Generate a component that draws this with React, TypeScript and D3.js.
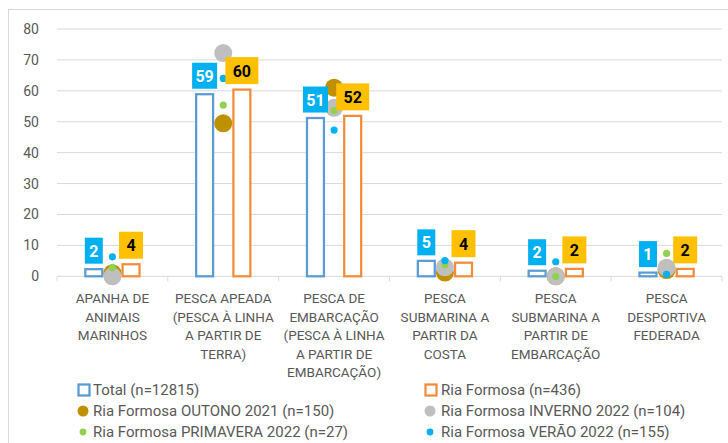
import React from "react";
import * as d3 from "d3";

const categories = [
  "APANHA DE ANIMAIS MARINHOS",
  "PESCA APEADA (PESCA À LINHA A PARTIR DE TERRA)",
  "PESCA DE EMBARCAÇÃO (PESCA À LINHA A PARTIR DE EMBARCAÇÃO)",
  "PESCA SUBMARINA A PARTIR DA COSTA",
  "PESCA SUBMARINA A PARTIR DE EMBARCAÇÃO",
  "PESCA DESPORTIVA FEDERADA",
];
const categoryLines = [
  ["APANHA DE", "ANIMAIS", "MARINHOS"],
  ["PESCA APEADA", "(PESCA À LINHA", "A PARTIR DE", "TERRA)"],
  ["PESCA DE", "EMBARCAÇÃO", "(PESCA À LINHA", "A PARTIR DE", "EMBARCAÇÃO)"],
  ["PESCA", "SUBMARINA A", "PARTIR DA", "COSTA"],
  ["PESCA", "SUBMARINA A", "PARTIR DE", "EMBARCAÇÃO"],
  ["PESCA", "DESPORTIVA", "FEDERADA"],
];

const totalValues = [2.3, 58.9, 51.2, 5.0, 1.8, 1.2];
const riaFormosaValues = [3.9, 60.4, 51.9, 4.4, 2.4, 2.4];
const outonoValues = [1.0, 49.5, 61.0, 1.2, 0, 2.0];
const invernoValues = [0, 72.2, 54.5, 2.9, 0, 2.8];
const primaveraValues = [2.8, 55.4, 53.6, 3.7, 0, 7.4];
const veraoValues = [6.3, 64.0, 47.3, 5.1, 4.7, 0.6];

const yTicks = [0, 10, 20, 30, 40, 50, 60, 70, 80];

const legendLabels = [
  "Total (n=12815)",
  "Ria Formosa (n=436)",
  "Ria Formosa OUTONO 2021 (n=150)",
  "Ria Formosa INVERNO 2022 (n=104)",
  "Ria Formosa PRIMAVERA 2022 (n=27)",
  "Ria Formosa VERÃO 2022 (n=155)",
];

const FONT = "Roboto, 'Liberation Sans', sans-serif";
const TEXT = "#595959";
const BLUE_BAR = "#5B9BD5";
const ORANGE_BAR = "#F28C3A";
const GOLD = "#BF9000";
const GRAY = "#BFBFBF";
const GREEN = "#92D050";
const CYAN = "#00B0F0";
const YELLOW = "#FFC000";

export default function App() {
  const W = 728;
  const H = 443;
  const x = d3.scaleBand<string>().domain(categories).range([57, 722]).paddingInner(0).paddingOuter(0);
  const y = d3.scaleLinear().domain([0, 80]).range([276.3, 29]);
  const bw = x.bandwidth();
  const barOff = bw * 0.168;
  const barW = bw * 0.153;
  const cx = (c: string) => (x(c) as number) + bw / 2;
  const fmt = d3.format(".0f");

  const scatter = [
    { vals: outonoValues, color: GOLD, r: 9 },
    { vals: invernoValues, color: GRAY, r: 9 },
    { vals: primaveraValues, color: GREEN, r: 3.6 },
    { vals: veraoValues, color: CYAN, r: 3.6 },
  ];

  const boundaries = categories.map((c) => x(c) as number).concat([722]);

  const legendRows = [390, 411, 432];
  const legendCols = [{ mx: 84, tx: 93 }, { mx: 431, tx: 441 }];
  const legendItems = [
    { type: "square", color: BLUE_BAR },
    { type: "square", color: ORANGE_BAR },
    { type: "circle", color: GOLD, r: 5.5 },
    { type: "circle", color: GRAY, r: 5.5 },
    { type: "circle", color: GREEN, r: 3.4 },
    { type: "circle", color: CYAN, r: 3.4 },
  ];

  return (
    <svg width={W} height={H} style={{ position: "absolute", left: 0, top: 0, background: "#fff" }} fontFamily={FONT}>
      <rect x={0} y={0} width={W} height={H} fill="#fff" />
      <rect x={8.5} y={9.5} width={740} height={460} fill="none" stroke="#D9D9D9" strokeWidth={1} />
      {yTicks.map((t) => (
        <line key={"g" + t} x1={57} x2={722} y1={y(t)} y2={y(t)} stroke="#D9D9D9" strokeWidth={1} />
      ))}
      {yTicks.map((t) => (
        <text key={"yt" + t} x={39} y={y(t) + 5} textAnchor="end" fontSize={14} fill={TEXT}>
          {t}
        </text>
      ))}
      {boundaries.map((b, i) => (
        <line key={"xt" + i} x1={b} x2={b} y1={y(0)} y2={y(0) + 5} stroke="#D9D9D9" strokeWidth={1} />
      ))}
      {categories.map((c, i) => (
        <g key={"b" + i}>
          <rect
            x={cx(c) - barOff - barW / 2}
            y={y(totalValues[i])}
            width={barW}
            height={y(0) - y(totalValues[i])}
            fill="#fff"
            stroke={BLUE_BAR}
            strokeWidth={2.25}
          />
          <rect
            x={cx(c) + barOff - barW / 2}
            y={y(riaFormosaValues[i])}
            width={barW}
            height={y(0) - y(riaFormosaValues[i])}
            fill="#fff"
            stroke={ORANGE_BAR}
            strokeWidth={2.25}
          />
        </g>
      ))}
      {scatter.map((s, si) =>
        categories.map((c, i) => (
          <circle key={"s" + si + "-" + i} cx={cx(c)} cy={y(s.vals[i])} r={s.r} fill={s.color} />
        ))
      )}
      {categories.map((c, i) => {
        const tLabel = fmt(totalValues[i]);
        const rLabel = fmt(riaFormosaValues[i]);
        const bwT = 11 + 7 * tLabel.length;
        const bwR = 15 + 9 * rLabel.length;
        const hT = 26;
        const hR = 27;
        const xT = cx(c) - barOff;
        const xR = cx(c) + barOff;
        const yT = y(totalValues[i]) - 5.5 - hT;
        const yR = y(riaFormosaValues[i]) - 5.5 - hR;
        return (
          <g key={"l" + i}>
            <rect x={xT - bwT / 2} y={yT} width={bwT} height={hT} fill={CYAN} />
            <text x={xT} y={yT + hT / 2 + 6} textAnchor="middle" fontSize={16} fontWeight="bold" fill="#fff">
              {tLabel}
            </text>
            <rect x={xR - bwR / 2} y={yR} width={bwR} height={hR} fill={YELLOW} />
            <text x={xR} y={yR + hR / 2 + 6} textAnchor="middle" fontSize={16} fontWeight="bold" fill="#000">
              {rLabel}
            </text>
          </g>
        );
      })}
      {categories.map((c, i) => (
        <text key={"c" + i} textAnchor="middle" fontSize={13.5} fill={TEXT}>
          {categoryLines[i].map((ln, j) => (
            <tspan key={j} x={cx(c)} y={303 + j * 18.6}>
              {ln}
            </tspan>
          ))}
        </text>
      ))}
      {legendLabels.map((lab, k) => {
        const col = legendCols[k % 2];
        const rowY = legendRows[Math.floor(k / 2)];
        const it = legendItems[k];
        return (
          <g key={"lg" + k}>
            {it.type === "square" ? (
              <rect x={col.mx - 5.5} y={rowY - 5.5} width={11} height={11} fill="#fff" stroke={it.color} strokeWidth={2.25} />
            ) : (
              <circle cx={col.mx - 1} cy={rowY} r={it.r} fill={it.color} />
            )}
            <text x={col.tx} y={rowY + 5.3} fontSize={15} fill={TEXT}>
              {lab}
            </text>
          </g>
        );
      })}
    </svg>
  );
}
